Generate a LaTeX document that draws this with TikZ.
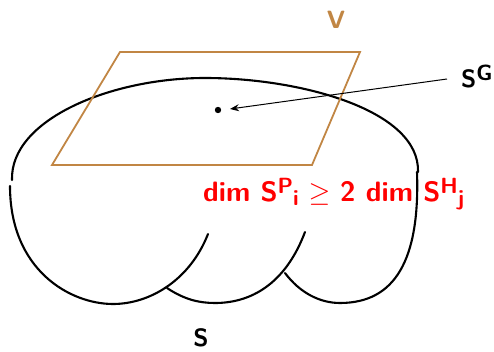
\RequirePackage{fix-cm}
\documentclass[tikz,border=0pt]{standalone}
\usetikzlibrary{arrows.meta}
\definecolor{planebrown}{RGB}{193,134,68}
\newcommand{\supscr}[1]{\raisebox{0.30em}{\fontsize{22}{22}\selectfont #1}}
\newcommand{\subscr}[1]{\raisebox{-0.12em}{\fontsize{22}{22}\selectfont #1}}
\tikzset{
  curve/.style={line width=2.1pt, line cap=round},
  plane/.style={draw=planebrown, line width=1.8pt, line join=miter},
  lbl/.style={font=\fontsize{25}{30}\selectfont\sffamily\bfseries, inner sep=0pt},
  redlbl/.style={font=\fontsize{28}{33}\selectfont\sffamily\bfseries, inner sep=0pt, text=red},
}
\begin{document}
\begin{tikzpicture}[x=1pt,y=-1pt]
\useasboundingbox (0,0) rectangle (494,352);
% surface S
\draw[curve] (12,180) .. controls (10,120) and (110,78) .. (205,78) .. controls (300,78) and (420,110) .. (418,172);
\draw[curve] (10,186) .. controls (10,270) and (70,304) .. (113,304) .. controls (150,304) and (190,280) .. (208,234);
\draw[curve] (167,288) .. controls (185,300) and (200,303) .. (215,303) .. controls (250,303) and (285,285) .. (305,232);
\draw[curve] (285,273) .. controls (300,293) and (320,303) .. (340,303) .. controls (395,303) and (420,260) .. (417,172);
% plane V
\draw[plane] (120,52) -- (360,52) -- (312,165) -- (52,165) -- cycle;
\node[lbl, text=planebrown] (V) at (336,20) {V};
% point and arrow
\fill (218,110) circle (3.2pt);
\coordinate (dot) at (230,109);
\coordinate (sgend) at (447,79);
\node[lbl, anchor=base west] (SG) at (461,88) {S\supscr{G}};
\draw[line width=1pt, -{Stealth[length=9pt,width=7pt]}] (sgend) -- (dot);
% red inequality
\node[redlbl, anchor=base west] (ineq) at (203,202) {dim S\supscr{P}\subscr{i}\hspace{0.35em}$\geq$\hspace{0.35em}2 dim S\supscr{H}\subscr{j}};
% label S
\node[lbl] (S) at (201,338) {S};
\end{tikzpicture}
\end{document}
